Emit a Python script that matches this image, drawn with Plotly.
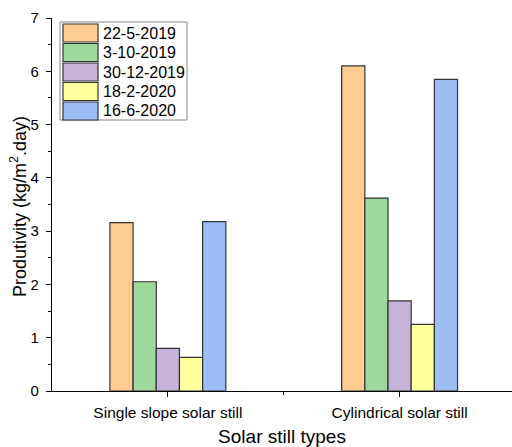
import plotly.graph_objects as go

categories = ["Single slope solar still", "Cylindrical solar still"]
series_names = ["22-5-2019", "3-10-2019", "30-12-2019", "18-2-2020", "16-6-2020"]
values_22_5_2019 = [3.16, 6.10]
values_3_10_2019 = [2.05, 3.62]
values_30_12_2019 = [0.80, 1.69]
values_18_2_2020 = [0.63, 1.25]
values_16_6_2020 = [3.18, 5.85]
series_values = [values_22_5_2019, values_3_10_2019, values_30_12_2019,
                 values_18_2_2020, values_16_6_2020]
colors = ["#FFCC90", "#9ED89C", "#C5B3D8", "#FFFF9E", "#9DBEF5"]
y_ticks = [0, 1, 2, 3, 4, 5, 6, 7]

FONT = "Liberation Sans, Arial, sans-serif"

fig = go.Figure()
for name, vals, col in zip(series_names, series_values, colors):
    fig.add_trace(go.Bar(
        x=[0, 1], y=vals, name=name,
        marker=dict(color=col, line=dict(color="#333333", width=1.2)),
        showlegend=False,
    ))

W, H = 512, 447
pl, pr, pt, pb = 52, 0, 18, 56

fig.update_layout(
    width=W, height=H,
    margin=dict(l=pl, r=pr, t=pt, b=pb, autoexpand=False),
    paper_bgcolor="white", plot_bgcolor="white",
    barmode="group", bargap=0.5, bargroupgap=0,
    font=dict(family=FONT, color="black"),
    xaxis=dict(
        range=[-0.5, 1.485], tickmode="array", tickvals=[0, 1], ticktext=categories,
        showline=True, linecolor="black", linewidth=1.2,
        ticks="outside", ticklen=5, tickcolor="black",
        minor=dict(tickmode="array", tickvals=[0.5], ticks="outside", ticklen=3, tickcolor="black"),
        showgrid=False, zeroline=False,
        tickfont=dict(size=15.5, family=FONT), ticklabelstandoff=2,
        title=dict(text="Solar still types", font=dict(size=19, family=FONT), standoff=9),
    ),
    yaxis=dict(
        range=[0, 7], tickvals=y_ticks,
        showline=True, linecolor="black", linewidth=1.2,
        ticks="outside", ticklen=5, tickcolor="black",
        minor=dict(dtick=0.5, ticks="outside", ticklen=3, tickcolor="black"),
        showgrid=False, zeroline=False,
        tickfont=dict(size=15, family=FONT), ticklabelstandoff=4,
    ),
)

pw, ph = W - pl - pr, H - pt - pb


def px(x):
    return (x - pl) / pw


def py(y):
    return 1 - (y - pt) / ph


fig.add_annotation(
    text="Produtivity (kg/m<sup>2</sup>.day)", textangle=-90,
    xref="paper", yref="paper", x=px(18), y=py(207),
    xanchor="center", yanchor="middle", showarrow=False,
    font=dict(size=18, family=FONT),
)

# Legend box built from the series list
lx0, lx1 = 60, 187
ly0, ly1 = 22, 120
fig.add_shape(type="rect", xref="paper", yref="paper",
              x0=px(lx0), x1=px(lx1), y0=py(ly1), y1=py(ly0),
              line=dict(color="#888888", width=1), fillcolor="white")
row_h = 19.5
for i, (name, col) in enumerate(zip(series_names, colors)):
    top = ly0 + 2 + i * row_h
    fig.add_shape(type="rect", xref="paper", yref="paper",
                  x0=px(63), x1=px(98), y0=py(top + row_h - 1.5), y1=py(top),
                  line=dict(color="#333333", width=1.2), fillcolor=col)
    fig.add_annotation(text=name, xref="paper", yref="paper",
                       x=px(101), y=py(top + (row_h - 1.5) / 2),
                       xanchor="left", yanchor="middle", showarrow=False,
                       font=dict(size=16, family=FONT))

fig.write_html("out.html", config={"displayModeBar": False},
               post_script="document.body.style.margin='0';")
